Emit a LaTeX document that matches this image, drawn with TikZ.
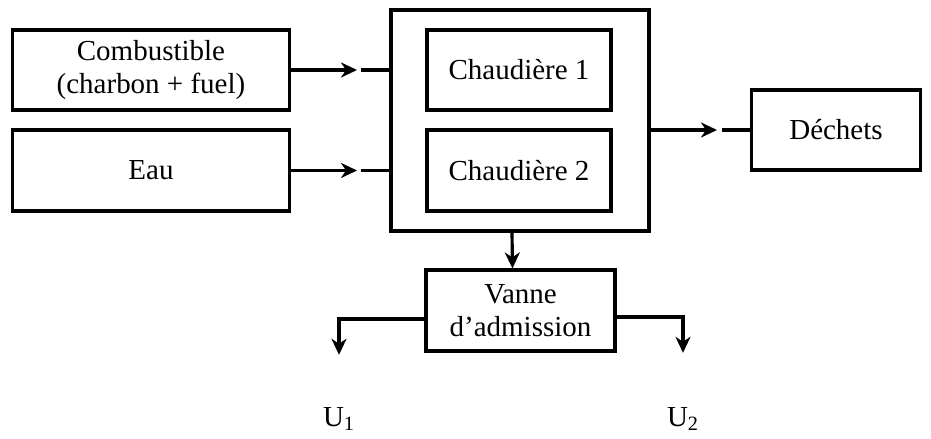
\documentclass[tikz,border=0pt]{standalone}
\usepackage{fontspec}
\setmainfont{Liberation Serif}
\usetikzlibrary{arrows.meta}
\begin{document}
\begin{tikzpicture}[x=0.02cm,y=-0.02cm,line width=1.8pt,
    font=\fontsize{16.5}{18.5}\selectfont,
    bloc/.style={draw,rectangle,inner sep=0pt,align=center},
    flow/.style={-{Stealth[length=0.32cm,width=0.3cm,inset=0.1cm]}}]
      \useasboundingbox (0,0) rectangle (931,439);
      \draw
        (151,70) node[bloc,minimum width=5.54cm,minimum height=1.6cm] (comb){Combustible\\(charbon + fuel)}
        (151,170.5) node[bloc,minimum width=5.54cm,minimum height=1.62cm] (eau){Eau}
        (520,120.5) node[bloc,minimum width=5.16cm,minimum height=4.42cm] (chaud){}
        (519,70) node[bloc,minimum width=3.68cm,minimum height=1.6cm] (ch1){Chaudière 1}
        (519,170.5) node[bloc,minimum width=3.68cm,minimum height=1.62cm] (ch2){Chaudière 2}
        (836,130) node[bloc,minimum width=3.38cm,minimum height=1.6cm] (dech){Déchets}
        (520.5,310.5) node[bloc,minimum width=3.78cm,minimum height=1.62cm] (vanne){Vanne\\d’admission}
        (339,419) node (u1){U\textsubscript{1}}
        (683,419) node (u2){U\textsubscript{2}};
      \coordinate (a1) at (357,70);
      \coordinate (b1) at (361,70);
      \coordinate (a2) at (357,170.5);
      \coordinate (b2) at (361,170.5);
      \coordinate (a3) at (717,130);
      \coordinate (b3) at (722,130);
      \begin{scope}[flow]
        \draw (comb) -- (a1);
        \draw (eau) -- (a2);
        \draw (chaud.east |- a3) -- (a3);
        \draw ([xshift=-0.16cm]chaud.south) -- ([xshift=-0.16cm]vanne.north);
        \draw ([yshift=-0.17cm]vanne.west) -| ([yshift=0.9cm]u1.north);
        \draw ([yshift=-0.13cm]vanne.east) -| ([yshift=0.94cm]u2.north);
      \end{scope}
      \draw (b1) -- (b1 -| chaud.west);
      \draw (b2) -- (b2 -| chaud.west);
      \draw (b3) -- (dech);
    \end{tikzpicture}
\end{document}
